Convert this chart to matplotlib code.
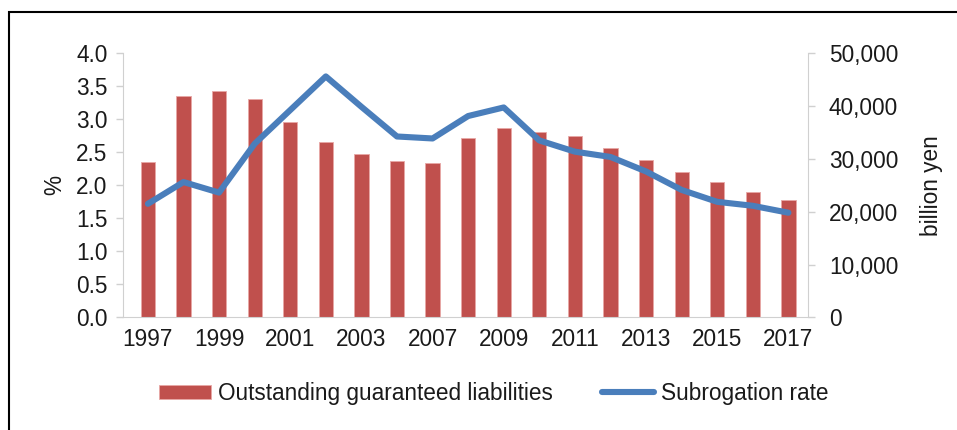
import matplotlib.pyplot as plt
from matplotlib.patches import Rectangle
from matplotlib.ticker import FuncFormatter

plt.rcParams["font.family"] = ["Liberation Sans", "DejaVu Sans"]

years = ["1997", "1998", "1999", "2000", "2001", "2002", "2003", "2005",
         "2007", "2008", "2009", "2010", "2011", "2012", "2013", "2014",
         "2015", "2016", "2017"]
liabilities = [29500, 41900, 42900, 41350, 36950, 33150, 31000, 29650,
               29300, 33900, 35800, 35050, 34350, 32000, 29750, 27600,
               25700, 23800, 22150]
subrogation = [1.72, 2.05, 1.89, 2.63, 3.14, 3.65, 3.19, 2.74,
               2.71, 3.05, 3.18, 2.68, 2.51, 2.43, 2.21, 1.93,
               1.75, 1.69, 1.585]
tick_labels = ["1997", "1999", "2001", "2003", "2007", "2009",
               "2011", "2013", "2015", "2017"]

bar_color = "#c0504d"
line_color = "#4a7ebb"
axis_gray = "#d0d0d0"
text_color = "#1a1a1a"
fs = 16.3

fig = plt.figure(figsize=(9.57, 4.30), dpi=100)
ax_bar = fig.add_axes([0.1285, 0.262, 0.7158, 0.614])
ax_line = ax_bar.twinx()
x = list(range(len(years)))

# bars on the right-hand axis (billion yen)
ax_bar.bar(x, liabilities, width=0.4, color=bar_color,
           edgecolor="#e8a7a5", linewidth=0.6,
           label="Outstanding guaranteed liabilities")
ax_bar.set_ylim(0, 50000)
ax_bar.set_xlim(-0.70, 18.55)
ax_bar.set_yticks(range(0, 50001, 10000))
ax_bar.yaxis.set_major_formatter(FuncFormatter(lambda v, p: f"{int(v):,}"))
ax_bar.yaxis.tick_right()
ax_bar.yaxis.set_label_position("right")
ax_bar.set_ylabel("billion yen", fontsize=fs, color=text_color, labelpad=16)

# line on the left-hand axis (%)
ax_line.plot(x, subrogation, color=line_color, linewidth=4.4,
             solid_capstyle="round", solid_joinstyle="round",
             label="Subrogation rate")
ax_line.set_ylim(0, 4.0)
ax_line.set_yticks([i * 0.5 for i in range(9)])
ax_line.yaxis.set_major_formatter(FuncFormatter(lambda v, p: f"{v:.1f}"))
ax_line.yaxis.tick_left()
ax_line.yaxis.set_label_position("left")
ax_line.set_ylabel("%", fontsize=fs, color=text_color, labelpad=7)

tick_pos = [years.index(t) for t in tick_labels]
ax_bar.set_xticks(tick_pos)
ax_bar.set_xticklabels(tick_labels)

for a in (ax_bar, ax_line):
    for s in a.spines.values():
        s.set_visible(False)
    a.tick_params(axis="y", labelsize=fs, labelcolor=text_color,
                  color=axis_gray, length=5, width=1, pad=6)
ax_bar.tick_params(axis="y", pad=10)
ax_bar.tick_params(axis="x", labelsize=fs, labelcolor=text_color,
                   length=0, pad=8)
ax_bar.spines["bottom"].set_visible(True)
ax_bar.spines["bottom"].set_color(axis_gray)
ax_bar.spines["right"].set_visible(True)
ax_bar.spines["right"].set_color(axis_gray)
ax_line.spines["left"].set_visible(True)
ax_line.spines["left"].set_color(axis_gray)

h1, l1 = ax_bar.get_legend_handles_labels()
h2, l2 = ax_line.get_legend_handles_labels()
fig.legend(h1 + h2, l1 + l2, loc="center", bbox_to_anchor=(0.516, 0.085),
           ncol=2, frameon=False, fontsize=fs, handlelength=2.3,
           handleheight=0.6, columnspacing=2.2, handletextpad=0.3,
           labelcolor=text_color)

fig.patches.append(Rectangle((9 / 957, -0.05), 1.2, 1.022,
                             transform=fig.transFigure, fill=False,
                             edgecolor="black", linewidth=1.5))

fig.savefig("out.png", dpi=100)
